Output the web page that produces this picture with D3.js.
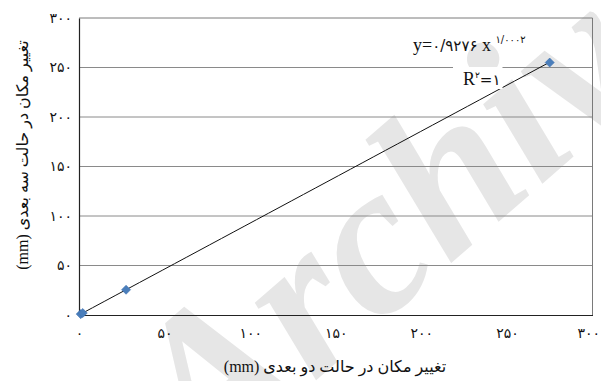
<!DOCTYPE html>
<html>
<head>
<meta charset="utf-8">
<script src="https://cdn.jsdelivr.net/npm/d3@7"></script>
<style>
  body { margin: 0; background: #fff; }
  svg { display: block; }
</style>
</head>
<body>
<svg id="chart" width="601" height="381"></svg>
<script>
// Measured displacement pairs (2D vs 3D analysis), mm
const xValues = [1, 2.2, 27.5, 275];
const yValues = [0.9, 2.0, 25.5, 255];

// Axis ticks
const xTicks = [0, 50, 100, 150, 200, 250, 300];
const yTicks = [0, 50, 100, 150, 200, 250, 300];

// Power trendline y = a * x^b
const fitCoef = 0.9276;
const fitExp = 1.0002;
const eqCoefLabel = "۰/۹۲۷۶";
const eqExpLabel = "۱/۰۰۰۲";
const r2Label = "۱";

const xTitle = "تغییر مکان در حالت دو بعدی (mm)";
const yTitle = "تغییر مکان در حالت سه بعدی (mm)";
const watermark = "Archive";

const faDigits = "۰۱۲۳۴۵۶۷۸۹";
const toFa = n => String(n).replace(/\d/g, d => faDigits[+d]);

const svg = d3.select("#chart");
const plot = { left: 79, right: 592.5, top: 18, bottom: 315 };

const x = d3.scaleLinear().domain([0, 300]).range([plot.left, plot.right]);
const y = d3.scaleLinear().domain([0, 300]).range([plot.bottom, plot.top]);

const persianFont = "'DejaVu Sans', sans-serif";
const latinFont = "'Liberation Serif', 'DejaVu Serif', serif";

// faint background watermark
svg.append("text")
  .attr("transform", "translate(466,250) rotate(-41)")
  .attr("text-anchor", "middle")
  .attr("font-family", latinFont)
  .attr("font-weight", "bold")
  .attr("font-style", "italic")
  .attr("font-size", 215)
  .attr("fill", "#e6e6e6")
  .text(watermark);

// horizontal gridlines
svg.append("g")
  .selectAll("line")
  .data(yTicks.filter(t => t > 0 && t < 300))
  .join("line")
  .attr("x1", plot.left).attr("x2", plot.right)
  .attr("y1", d => y(d)).attr("y2", d => y(d))
  .attr("stroke", "#8a8a8a").attr("stroke-width", 1);

// plot frame: top and right in grey
svg.append("path")
  .attr("d", `M${plot.left},${plot.top}H${plot.right}V${plot.bottom}`)
  .attr("fill", "none").attr("stroke", "#7a7a7a").attr("stroke-width", 1);

// axes
const xAxis = svg.append("g")
  .attr("transform", `translate(0,${plot.bottom})`)
  .call(d3.axisBottom(x).tickValues(xTicks).tickSize(0).tickPadding(13).tickFormat(toFa));
const yAxis = svg.append("g")
  .attr("transform", `translate(${plot.left},0)`)
  .call(d3.axisLeft(y).tickValues(yTicks).tickSize(0).tickPadding(7).tickFormat(toFa));

[xAxis, yAxis].forEach(g => {
  g.select(".domain").attr("stroke", "#222").attr("stroke-width", 1.2);
  g.selectAll("text")
    .attr("font-family", persianFont)
    .attr("font-size", 14)
    .attr("fill", "#111");
});
// keep the last x label inside the canvas
xAxis.selectAll(".tick text").filter(d => d === 300)
  .attr("text-anchor", "end").attr("x", 7);

// trendline
const data = xValues.map((v, i) => ({ x: v, y: yValues[i] }));
const [xMin, xMax] = d3.extent(xValues);
const fitPts = d3.range(0, 41).map(i => {
  const xv = xMin + (xMax - xMin) * i / 40;
  return [xv, fitCoef * Math.pow(xv, fitExp)];
});
svg.append("path")
  .datum(fitPts)
  .attr("fill", "none")
  .attr("stroke", "#111")
  .attr("stroke-width", 1)
  .attr("d", d3.line().x(d => x(d[0])).y(d => y(d[1])));

// diamond markers
svg.append("g")
  .selectAll("path")
  .data(data)
  .join("path")
  .attr("transform", d => `translate(${x(d.x)},${y(d.y)})`)
  .attr("d", d3.symbol(d3.symbolDiamond2, 52)())
  .attr("fill", "#4a7ebb")
  .attr("stroke", "#3d6fae")
  .attr("stroke-width", 0.6);

// equation label
const eq = svg.append("text")
  .attr("x", 413).attr("y", 51)
  .attr("font-family", latinFont)
  .attr("font-size", 18)
  .attr("fill", "#111");
eq.append("tspan").text("y=");
eq.append("tspan").attr("font-family", persianFont).attr("font-size", 15).text(eqCoefLabel);
eq.append("tspan").text(" x ");
eq.append("tspan").attr("font-family", persianFont).attr("font-size", 10).attr("dy", -8).text(eqExpLabel);

const r2g = svg.append("g");
const r2 = r2g.append("text")
  .attr("x", 463).attr("y", 85)
  .attr("font-family", latinFont)
  .attr("font-size", 18)
  .attr("fill", "#111");
r2.append("tspan").text("R");
r2.append("tspan").attr("font-family", persianFont).attr("font-size", 9).attr("dy", -7).text("۲");
r2.append("tspan").attr("font-family", persianFont).attr("font-size", 15).attr("dy", 7).text("=" + r2Label);
const bb = r2.node().getBBox();
r2g.insert("rect", "text")
  .attr("x", bb.x - 10).attr("y", bb.y - 2)
  .attr("width", bb.width + 12).attr("height", bb.height + 2)
  .attr("fill", "#fff");

// axis titles
svg.append("text")
  .attr("x", 335).attr("y", 372)
  .attr("text-anchor", "middle")
  .attr("direction", "rtl")
  .attr("font-family", latinFont + ", " + persianFont)
  .attr("font-size", 16)
  .attr("fill", "#111")
  .text(xTitle);

svg.append("text")
  .attr("transform", "translate(28,155) rotate(-90)")
  .attr("text-anchor", "middle")
  .attr("direction", "rtl")
  .attr("font-family", latinFont + ", " + persianFont)
  .attr("font-size", 16)
  .attr("fill", "#111")
  .text(yTitle);
</script>
</body>
</html>
